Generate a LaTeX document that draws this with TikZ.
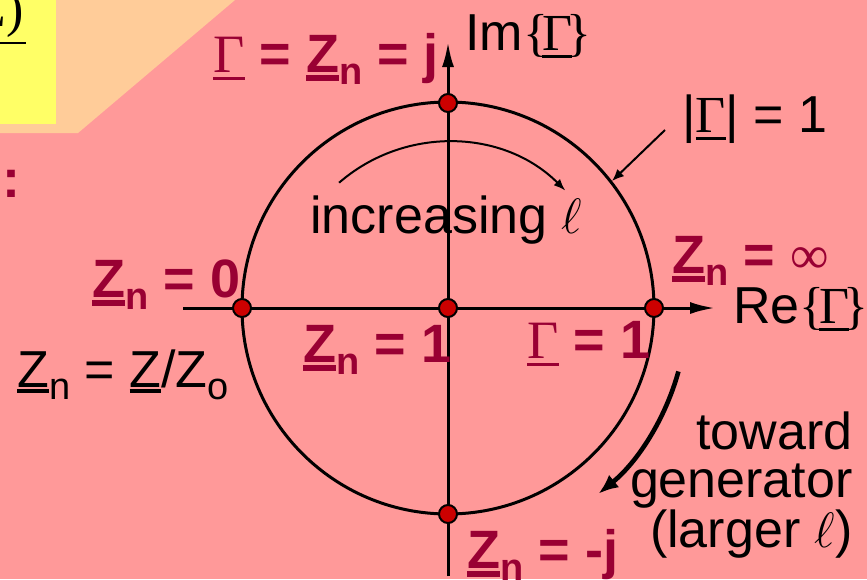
\documentclass[tikz,border=0pt]{standalone}
\usepackage{fontspec}
\setmainfont{Liberation Sans}
\newfontfamily\grkfont{Liberation Serif}
\usetikzlibrary{arrows.meta}
\definecolor{bgpink}{HTML}{FF9999}
\definecolor{peach}{HTML}{FFCC99}
\definecolor{notepad}{HTML}{FFFF66}
\definecolor{wine}{HTML}{990033}
\definecolor{dotred}{HTML}{CC0000}
% underline: gap, thickness, text
\newcommand{\ubar}[3]{\leavevmode\setbox0=\hbox{#3}\rlap{\rule[\dimexpr-#1-#2\relax]{\wd0}{#2}}\box0}
\newcommand{\Gu}{\ubar{0.1em}{0.055em}{\grkfont\mdseries\upshape Γ}}
\newcommand{\Zb}{\ubar{0.06em}{0.1em}{Z}}
\newcommand{\Zr}{\ubar{0.04em}{0.075em}{Z}}
\newcommand{\lsub}[1]{\raisebox{-0.24em}{\fontsize{19}{20}\selectfont #1}}
\newcommand{\braceG}{{\grkfont\{}\kern-0.11em\Gu\kern-0.11em{\grkfont\}}\kern-0.04em}
\tikzset{
  wine label/.style={text=wine, font=\fontsize{27}{30}\selectfont\bfseries, inner sep=0pt, anchor=base west},
  ink label/.style={font=\fontsize{26}{30}\selectfont, inner sep=0pt, anchor=base west},
  axis/.style={line width=1.5pt, -{Latex[length=12.5pt,width=6pt]}},
  spot/.style={circle, fill=dotred, draw=black, line width=1pt, minimum size=9pt, inner sep=0pt},
}

\begin{document}
\begin{tikzpicture}[x=0.5pt,y=-0.5pt]
\useasboundingbox (0,0) rectangle (867,579);
\fill[bgpink] (0,0) rectangle (867,579);
\fill[peach] (0,0) -- (235,0) -- (78,133) -- (0,133) -- cycle;
\fill[notepad] (0,0) rectangle (56,124);
% cut-off formula in the corner
\node[ink label, font=\fontsize{26}{30}\selectfont\grkfont, anchor=base east] (frac top) at (24,26) {Z)};
\draw[line width=1.3pt] (-10,43) -- (26,43);
\node[ink label, font=\fontsize{26}{30}\selectfont\grkfont, anchor=base east] (frac bot) at (2,102) {o};
\node[wine label] (colon) at (2,197) {:};

\coordinate (O) at (448,308);
\coordinate (xl) at (183,308); \coordinate (xr) at (715,308);
\coordinate (yb) at (448,576); \coordinate (yt) at (448,42);
\coordinate (lead) at (665,130); \coordinate (rim) at (612,181);

\draw[line width=1.5pt] (O) circle[radius=206];
\draw[axis] (xl) -- (xr);
\draw[axis] (yb) -- (yt);
\draw[line width=1pt, -{Latex[length=6pt,width=5pt]}] (lead) -- (rim);
\draw[line width=1pt, -{Latex[length=6pt,width=4.5pt]}] (O) ++(-131:166) arc[start angle=-131, end angle=-45, radius=166];
\draw[line width=2.3pt, -{Latex[length=10pt,width=8pt]}] (O) ++(15.4:239) arc[start angle=15.4, end angle=51, radius=239];

\node[spot] (top) at (448,103) {};
\node[spot] (left) at (242,308) {};
\node[spot] (mid) at (O) {};
\node[spot] (right) at (654,308) {};
\node[spot] (bot) at (448,514) {};

\node[wine label] (gam j) at (213,72) {\Gu{} = \Zb\lsub{n} = j};
\node[ink label] (im) at (465,50) {Im\braceG};
\node[ink label] (abs) at (682,132) {|\Gu| = 1};
\node[ink label] (incr) at (310,233) {increasing $\ell$};
\node[wine label] (z inf) at (672,273) {\Zb\lsub{n} = {\grkfont\mdseries ∞}};
\node[ink label] (re) at (733,323) {Re\braceG};
\node[wine label] (z zero) at (92,297) {\Zb\lsub{n} = 0};
\node[wine label] (z one) at (303,362) {\Zb\lsub{n} = 1};
\node[ink label] (z def) at (17,387) {\Zr\lsub{n} = \Zr/Z\lsub{o}};
\node[wine label] (gam one) at (527,358) {\Gu{} = 1};
\node[wine label] (z mj) at (467,568) {\Zb\lsub{n} = -j};
\node[ink label, anchor=north east, align=right, font=\fontsize{26}{24}\selectfont] (gen) at (853,411) {toward\\generator\\(larger $\ell$)};
\end{tikzpicture}
\end{document}
